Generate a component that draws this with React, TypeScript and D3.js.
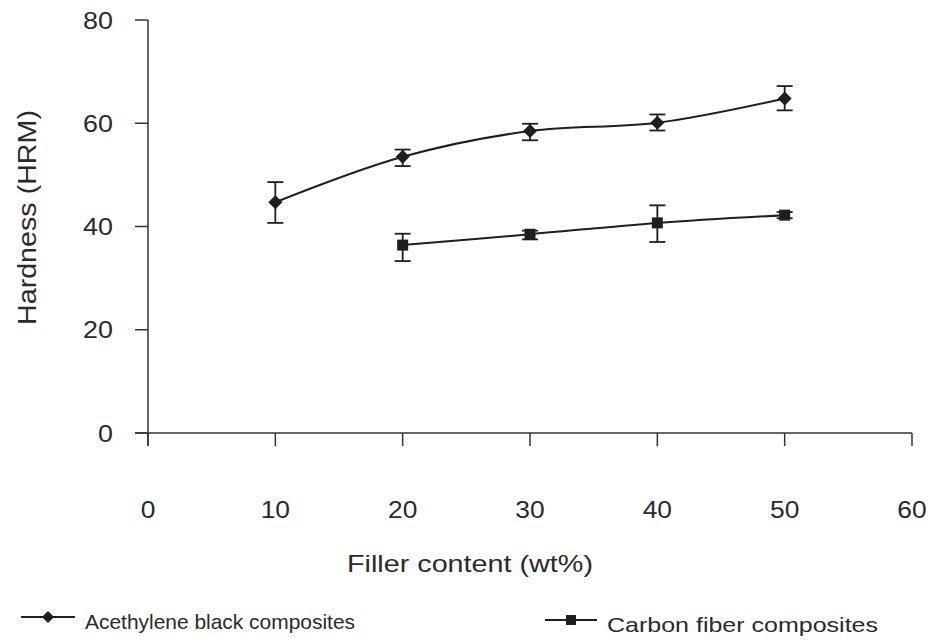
import React from "react";
import * as d3 from "d3";

const xTicks = [0, 10, 20, 30, 40, 50, 60];
const yTicks = [0, 20, 40, 60, 80];

const abX = [10, 20, 30, 40, 50];
const abY = [44.7, 53.5, 58.5, 60.1, 64.8];
const abLo = [40.7, 51.7, 56.7, 58.6, 62.5];
const abHi = [48.6, 54.9, 59.9, 61.7, 67.2];

const cfX = [20, 30, 40, 50];
const cfY = [36.4, 38.5, 40.7, 42.2];
const cfLo = [33.3, 37.5, 37.0, 41.6];
const cfHi = [38.6, 39.2, 44.1, 42.8];

const seriesNames = ["Acethylene black composites", "Carbon fiber composites"];

const FONT = "'Liberation Sans', Arial, sans-serif";
const INK = "#1e1e1e";

export default function App() {
  const x = d3.scaleLinear().domain([0, 60]).range([148, 912]);
  const y = d3.scaleLinear().domain([0, 80]).range([433, 20]);
  const line = d3
    .line<[number, number]>()
    .x((d) => x(d[0]))
    .y((d) => y(d[1]))
    .curve(d3.curveCardinal.tension(0));

  const abPts: [number, number][] = abX.map((v, i) => [v, abY[i]]);
  const cfPts: [number, number][] = cfX.map((v, i) => [v, cfY[i]]);

  const diamond = (cx: number, cy: number, r: number) =>
    `M${cx},${cy - r}L${cx + r},${cy}L${cx},${cy + r}L${cx - r},${cy}Z`;

  const errBars = (xs: number[], lo: number[], hi: number[]) =>
    xs.map((v, i) => (
      <g key={i} stroke={INK} strokeWidth={1.8}>
        <line x1={x(v)} x2={x(v)} y1={y(lo[i])} y2={y(hi[i])} />
        <line x1={x(v) - 8} x2={x(v) + 8} y1={y(lo[i])} y2={y(lo[i])} />
        <line x1={x(v) - 8} x2={x(v) + 8} y1={y(hi[i])} y2={y(hi[i])} />
      </g>
    ));

  return (
    <svg width={932} height={641} style={{ position: "absolute", left: 0, top: 0, background: "#fff" }}>
      <rect width={932} height={641} fill="#fff" />
      {/* axes */}
      <g stroke="#333" strokeWidth={1.5}>
        <line x1={x(0)} x2={x(0)} y1={y(80)} y2={y(0) + 13} />
        <line x1={x(0) - 13} x2={x(60)} y1={y(0)} y2={y(0)} />
        {yTicks.map((t) => (
          <line key={t} x1={x(0) - 13} x2={x(0)} y1={y(t)} y2={y(t)} />
        ))}
        {xTicks.map((t) => (
          <line key={t} x1={x(t)} x2={x(t)} y1={y(0)} y2={y(0) + 13} />
        ))}
      </g>
      <g fontFamily={FONT} fill="#2a2a2a">
        {yTicks.map((t) => (
          <text
            key={t}
            transform={`translate(${x(0) - 35},${y(t) + 8.5}) scale(1.12,1)`}
            textAnchor="end"
            fontSize={24}
          >
            {t}
          </text>
        ))}
        {xTicks.map((t) => (
          <text
            key={t}
            transform={`translate(${x(t)},518) scale(1.1,1)`}
            textAnchor="middle"
            fontSize={24}
          >
            {t}
          </text>
        ))}
        <text
          x={347}
          y={572}
          fontSize={24}
          textLength={246}
          lengthAdjust="spacingAndGlyphs"
        >
          Filler content (wt%)
        </text>
        <text
          transform={`translate(36,325) rotate(-90)`}
          fontSize={25}
          textLength={215}
          lengthAdjust="spacingAndGlyphs"
        >
          Hardness (HRM)
        </text>
      </g>
      {/* series */}
      <path d={line(abPts) || ""} fill="none" stroke={INK} strokeWidth={2} />
      <path d={line(cfPts) || ""} fill="none" stroke={INK} strokeWidth={2} />
      {errBars(abX, abLo, abHi)}
      {errBars(cfX, cfLo, cfHi)}
      {abPts.map((p, i) => (
        <path key={i} d={diamond(x(p[0]), y(p[1]), 7)} fill={INK} />
      ))}
      {cfPts.map((p, i) => (
        <rect key={i} x={x(p[0]) - 5.5} y={y(p[1]) - 5.5} width={11} height={11} fill={INK} />
      ))}
      {/* legend */}
      <g fontFamily={FONT} fontSize={21} fill="#2a2a2a">
        <line x1={21} x2={75} y1={617} y2={617} stroke={INK} strokeWidth={2} />
        <path d={diamond(48, 617, 6)} fill={INK} />
        <text x={85} y={629} textLength={270} lengthAdjust="spacingAndGlyphs">
          {seriesNames[0]}
        </text>
        <line x1={545} x2={597} y1={620} y2={620} stroke={INK} strokeWidth={2} />
        <rect x={566} y={615} width={10} height={10} fill={INK} />
        <text x={607} y={632} textLength={271} lengthAdjust="spacingAndGlyphs">
          {seriesNames[1]}
        </text>
      </g>
    </svg>
  );
}
